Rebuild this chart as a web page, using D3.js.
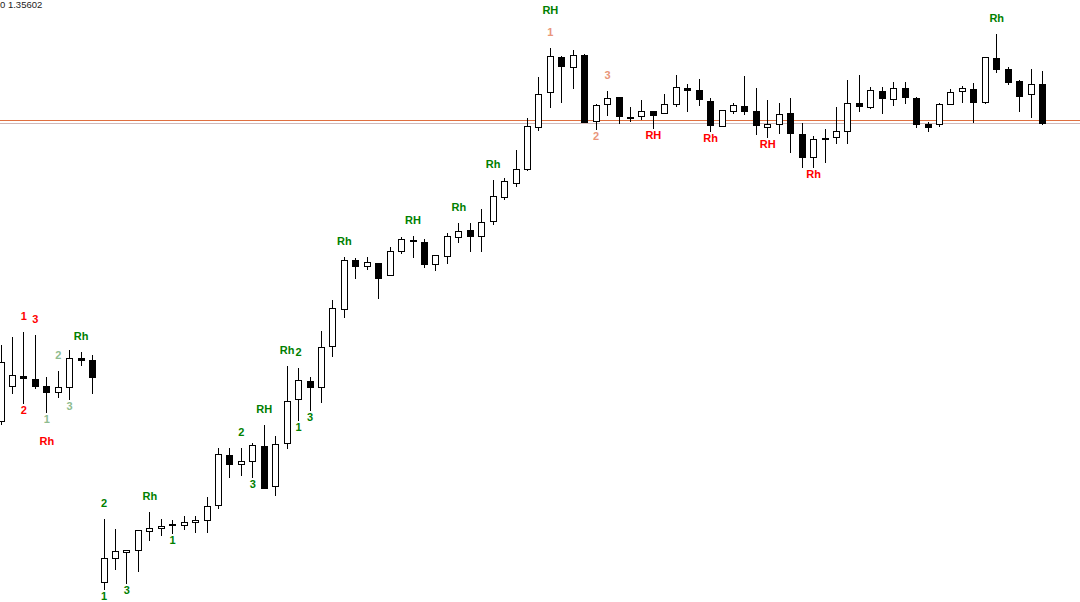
<!DOCTYPE html>
<html>
<head>
<meta charset="utf-8">
<script src="https://cdn.jsdelivr.net/npm/d3@7"></script>
<style>
  body { margin: 0; background: #fff; }
  svg { display: block; }
  .lbl { font-family: "Liberation Sans", Arial, sans-serif; font-size: 11px; font-weight: bold; }
</style>
</head>
<body>
<svg width="1080" height="602"></svg>
<script>
// price in points, one entry per bar
var open = [579,614,624,621,614,608,613,642,640,418,442,448,450,469,472,475,475,478,480,495,
  545,536,539,554,514,557,601,619,613,654,691,740,734,737,725,749,760,758,736,744,
  763,770,764,779,803,817,831,873,908,943,933,945,879,896,903,883,884,889,887,896,
  912,910,899,874,889,894,889,873,876,887,866,843,861,863,869,897,893,909,901,912,
  902,876,876,896,909,911,898,942,931,919,906,916];
var high = [655,663,668,665,623,629,650,648,645,481,471,450,470,488,481,480,484,484,503,552,
  552,552,557,575,564,634,632,623,669,700,743,742,743,737,753,763,764,761,745,767,
  777,777,791,820,822,850,882,923,952,944,950,946,896,909,903,893,900,889,906,925,
  916,921,902,890,897,924,912,900,897,902,877,864,871,893,920,925,913,913,918,918,
  903,878,897,911,914,917,943,966,933,920,931,929];
var low = [576,607,597,612,588,603,601,635,607,411,431,417,429,460,465,467,471,468,468,492,
  523,525,523,512,505,552,580,590,598,644,683,722,731,702,725,747,743,733,730,737,
  758,749,749,776,801,814,830,870,893,898,912,878,871,885,877,879,881,872,887,894,
  889,895,869,874,887,886,866,863,867,848,833,833,838,857,857,889,892,887,895,897,
  873,869,874,896,898,878,897,928,916,889,883,876];
var close = [638,625,622,614,608,613,642,640,623,442,449,450,470,472,474,476,478,480,494,546,
  536,539,555,512,556,599,620,613,653,692,740,734,738,722,749,761,759,736,745,764,
  769,764,778,804,819,831,874,906,944,934,945,878,895,902,884,882,889,885,896,913,
  910,901,875,890,895,889,875,876,886,867,843,861,862,869,897,894,910,902,912,903,
  876,873,896,908,912,898,943,931,918,904,916,877];

// signal labels: bar index, text, side (1 above, -1 below), stack level, colour
var labelBars   = [2, 2, 3, 4, 4, 5, 6, 7, 9, 9, 11, 13, 15, 21, 22, 23, 25, 26, 26, 27,
  30, 36, 40, 43, 48, 48, 52, 53, 57, 62, 67, 71, 87];
var labelTexts  = ["1","2","3","1","Rh","2","3","Rh","2","1","3","Rh","1","2","3","RH","Rh","2","1","3",
  "Rh","RH","Rh","Rh","1","RH","2","3","RH","Rh","RH","Rh","Rh"];
var labelSides  = [1,-1,1,-1,-1,1,-1,1,1,-1,-1,1,-1,1,-1,1,1,1,-1,-1,
  1,1,1,1,1,1,-1,1,-1,-1,-1,-1,1];
var labelLevels = [0,0,0,0,1,0,0,0,0,0,0,0,0,0,0,0,0,0,0,0,
  0,0,0,0,0,1,0,0,0,0,0,0,0];
var labelColors = ["red","red","red","sea","red","sea","sea","green","green","green","green","green","green","green","green","green","green","green","green","green",
  "green","green","green","green","salmon","green","salmon","salmon","red","red","red","red","green"];

var priceLines = [880, 877];
var headerText = "0 1.35602";

var palette = { red: "#ff0000", green: "#008000", sea: "#8fbc8f", salmon: "#e9967a" };

var svg = d3.select("svg"),
    width = +svg.attr("width"),
    height = +svg.attr("height");

var x = d3.scaleLinear().domain([0, open.length - 1]).range([0.5, 1042]);
var y = d3.scaleLinear().domain([1000 - height, 1000]).range([height, 0]);

var bars = open.map(function(o, i) {
  return { i: i, open: o, high: high[i], low: low[i], close: close[i] };
});

// price lines
svg.selectAll("line.price")
  .data(priceLines)
  .enter().append("line")
    .attr("class", "price")
    .attr("x1", 0)
    .attr("x2", width)
    .attr("y1", function(d) { return Math.round(y(d)) + 0.5; })
    .attr("y2", function(d) { return Math.round(y(d)) + 0.5; })
    .attr("stroke", function(d, i) { return i === 0 ? "#e07040" : "#d0b8b8"; })
    .attr("stroke-width", 1);

var candle = svg.selectAll("g.candle")
  .data(bars)
  .enter().append("g")
    .attr("class", "candle")
    .attr("transform", function(d) { return "translate(" + Math.round(x(d.i)) + ",0)"; });

candle.append("line")
    .attr("x1", 0.5)
    .attr("x2", 0.5)
    .attr("y1", function(d) { return Math.round(y(d.high)); })
    .attr("y2", function(d) { return Math.round(y(d.low)) + 1; })
    .attr("stroke", "#000")
    .attr("stroke-width", 1);

candle.append("rect")
    .attr("x", -2.5)
    .attr("width", 6)
    .attr("y", function(d) { return Math.round(y(Math.max(d.open, d.close))) + 0.5; })
    .attr("height", function(d) { return Math.abs(Math.round(y(d.open)) - Math.round(y(d.close))); })
    .attr("fill", function(d) { return d.close >= d.open ? "#fff" : "#000"; })
    .attr("stroke", "#000")
    .attr("stroke-width", 1);

// labels
var labels = labelBars.map(function(b, k) {
  return { bar: b, text: labelTexts[k], side: labelSides[k], level: labelLevels[k], color: palette[labelColors[k]] };
});

svg.selectAll("text.lbl")
  .data(labels)
  .enter().append("text")
    .attr("class", "lbl")
    .attr("text-anchor", "middle")
    .attr("x", function(d) { return x(d.bar) + 0.5; })
    .attr("y", function(d) {
      var b = bars[d.bar];
      if (d.side > 0) return y(b.high) - 12 - d.level * 22;
      return y(b.low) + 11 + d.level * 22;
    })
    .attr("fill", function(d) { return d.color; })
    .text(function(d) { return d.text; });

svg.append("text")
    .attr("x", 0)
    .attr("y", 8)
    .attr("font-family", "'Liberation Sans', Arial, sans-serif")
    .attr("font-size", "9.5px")
    .attr("fill", "#222")
    .text(headerText);
</script>
</body>
</html>
